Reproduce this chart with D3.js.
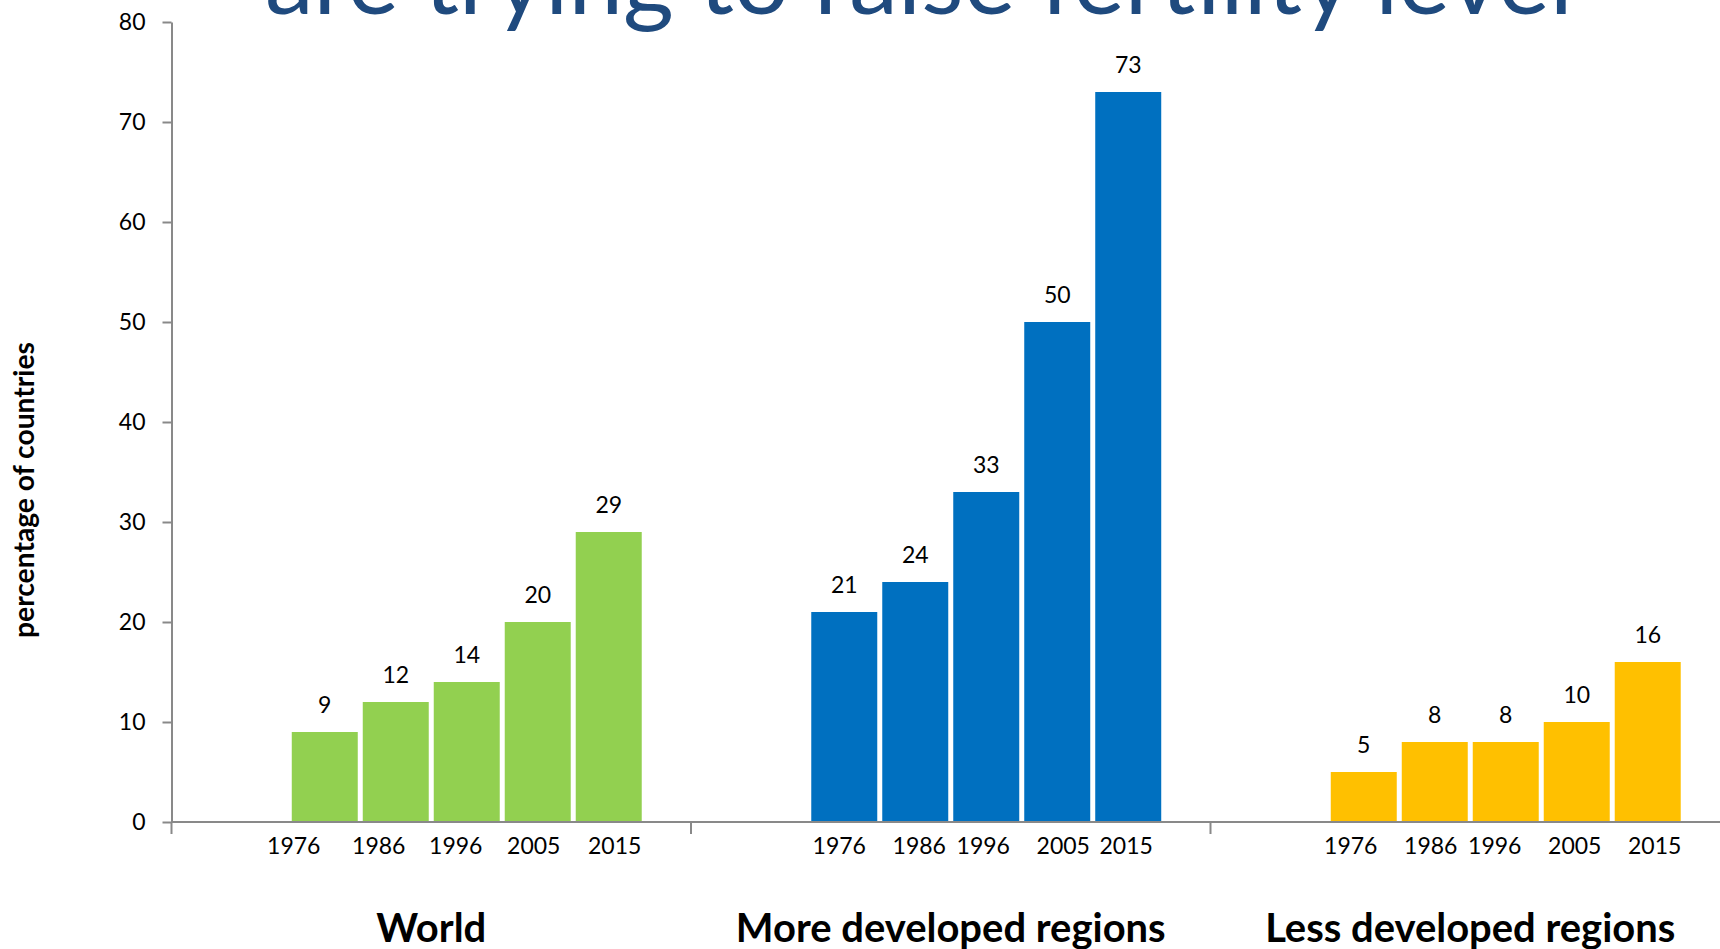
<!DOCTYPE html>
<html>
<head>
<meta charset="utf-8">
<script src="https://cdn.jsdelivr.net/npm/d3@7"></script>
<style>
  html, body { margin: 0; padding: 0; background: #ffffff; overflow: hidden; }
  text { font-family: Lato, "Open Sans", sans-serif; fill: #000; }
</style>
</head>
<body>
<svg id="chart" width="1720" height="949"></svg>
<script>
// ---- data ----
const regions = ["World", "More developed regions", "Less developed regions"];
const years = ["1976", "1986", "1996", "2005", "2015"];
const worldValues = [9, 12, 14, 20, 29];
const moreDevelopedValues = [21, 24, 33, 50, 73];
const lessDevelopedValues = [5, 8, 8, 10, 16];
const yTickValues = [0, 10, 20, 30, 40, 50, 60, 70, 80];
const titleText = "are trying to raise fertility level";
const yAxisTitle = "percentage of countries";

// ---- styling / layout ----
const regionColors = ["#92D050", "#0070C0", "#FFC000"];
const axisColor = "#898989";
const smallFont = 23;
// hand-placed year captions: horizontal nudge from each bar centre (px)
const yearLabelNudge = [
  [-31, -17, -11, -4, 6],
  [-5, 4, -3, 6, -2],
  [-13, -4, -11, -2, 7]
];

const seriesByRegion = [worldValues, moreDevelopedValues, lessDevelopedValues];
const table = regions.map((r, i) => ({
  region: r,
  color: regionColors[i],
  bars: years.map((yr, j) => ({ year: yr, value: seriesByRegion[i][j], nudge: yearLabelNudge[i][j] }))
}));

const svg = d3.select("#chart");
const plotLeft = 171.5, plotTop = 22, plotBottom = 822;
const categoryWidth = 519.5;

const y = d3.scaleLinear().domain([0, 80]).range([plotBottom, plotTop]);
const x0 = d3.scaleBand().domain(regions).range([plotLeft, plotLeft + categoryWidth * regions.length]);
// an empty leading slot inside each category shifts the five bars right
const x1 = d3.scaleBand().domain(["", ...years]).range([0, categoryWidth])
  .paddingInner(0.0704).paddingOuter(0.694);

// fit a text element's font size so its rendered width equals target
function fitWidth(sel, target) {
  const node = sel.node();
  const fs = parseFloat(sel.attr("font-size"));
  const w = node.getComputedTextLength();
  const size = fs * target / w;
  sel.attr("font-size", size);
  return size;
}

// ---- title (top line cut by the frame) ----
const title = svg.append("text")
  .attr("x", 265).attr("y", 14)
  .attr("font-size", 70)
  .style("fill", "#1F4A7E")
  .text(titleText);
fitWidth(title, 1308);

// ---- bars ----
const groups = svg.append("g").selectAll("g.region")
  .data(table).join("g")
  .attr("class", "region")
  .attr("transform", d => `translate(${x0(d.region)},0)`);

groups.selectAll("rect")
  .data(d => d.bars.map(b => ({ ...b, color: d.color })))
  .join("rect")
  .attr("x", d => x1(d.year))
  .attr("y", d => y(d.value))
  .attr("width", x1.bandwidth())
  .attr("height", d => y(0) - y(d.value))
  .attr("fill", d => d.color);

// value labels
groups.selectAll("text.value")
  .data(d => d.bars)
  .join("text")
  .attr("class", "value")
  .attr("x", d => x1(d.year) + x1.bandwidth() / 2)
  .attr("y", d => y(d.value) - 19)
  .attr("text-anchor", "middle")
  .attr("font-size", smallFont)
  .text(d => d.value);

// year captions under the axis
groups.selectAll("text.year")
  .data(d => d.bars)
  .join("text")
  .attr("class", "year")
  .attr("x", d => x1(d.year) + x1.bandwidth() / 2 + d.nudge)
  .attr("y", 854)
  .attr("text-anchor", "middle")
  .attr("font-size", smallFont)
  .text(d => d.year);

// region names
const regionLabels = groups.append("text")
  .attr("class", "regionName")
  .attr("x", categoryWidth / 2)
  .attr("y", 942)
  .attr("text-anchor", "middle")
  .attr("font-weight", "bold")
  .attr("font-size", 36)
  .text(d => d.region);
const ref = regionLabels.filter(d => d.region === "More developed regions");
const regionSize = fitWidth(ref, 430);
regionLabels.attr("font-size", regionSize);

// ---- y axis ----
const yAxis = svg.append("g")
  .attr("transform", `translate(${plotLeft},0)`)
  .call(d3.axisLeft(y).tickValues(yTickValues).tickSize(9).tickSizeOuter(0).tickPadding(17));
yAxis.select(".domain").attr("stroke", axisColor).attr("stroke-width", 2);
yAxis.selectAll(".tick line").attr("stroke", axisColor).attr("stroke-width", 2);
yAxis.selectAll(".tick text")
  .attr("font-family", "Lato, 'Open Sans', sans-serif")
  .attr("font-size", smallFont)
  .style("fill", "#000");

// ---- x axis: baseline with category boundary ticks ----
const xAxis = svg.append("g");
xAxis.append("line")
  .attr("x1", plotLeft).attr("x2", 1720)
  .attr("y1", y(0)).attr("y2", y(0))
  .attr("stroke", axisColor).attr("stroke-width", 2);
xAxis.selectAll("line.boundary")
  .data(regions)
  .join("line")
  .attr("class", "boundary")
  .attr("x1", d => x0(d)).attr("x2", d => x0(d))
  .attr("y1", y(0)).attr("y2", y(0) + 12)
  .attr("stroke", axisColor).attr("stroke-width", 2);

// ---- y axis title ----
const yTitle = svg.append("text")
  .attr("transform", "translate(34,490) rotate(-90)")
  .attr("text-anchor", "middle")
  .attr("font-weight", "bold")
  .attr("font-size", 22)
  .text(yAxisTitle);
fitWidth(yTitle, 296);
</script>
</body>
</html>
